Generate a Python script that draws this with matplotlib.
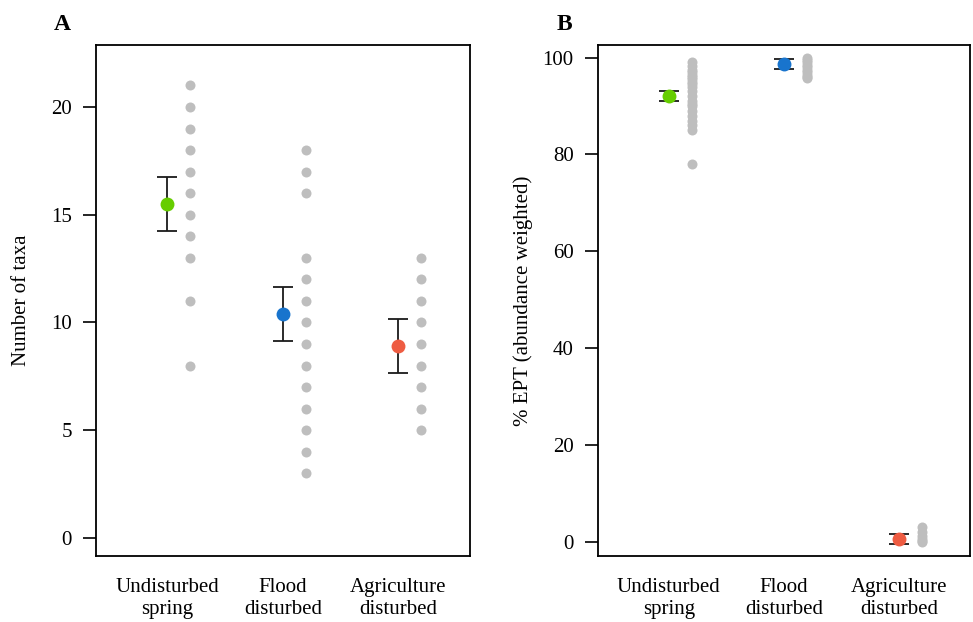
import matplotlib
matplotlib.use('Agg')
import matplotlib.pyplot as plt
import numpy as np

plt.rcParams['font.family'] = ['Liberation Serif', 'DejaVu Serif']

groups = ['Undisturbed\nspring', 'Flood\ndisturbed', 'Agriculture\ndisturbed']
colors = ['#66CD00', '#1874CD', '#EE5C42']

# Panel A: number of taxa per site
taxa_undisturbed = [21, 20, 19, 18, 17, 16, 15, 14, 13, 11, 8]
taxa_flood = [18, 17, 16, 13, 12, 11, 10, 9, 8, 7, 6, 5, 4, 3]
taxa_agri = [13, 12, 11, 10, 9, 8, 7, 6, 5]
taxa_mean = [15.5, 10.4, 8.9]
taxa_lo = [14.25, 9.15, 7.65]
taxa_hi = [16.75, 11.65, 10.15]

# Panel B: % EPT (abundance weighted)
ept_undisturbed = [99, 98.2, 97.5, 97, 96.5, 96, 95.5, 95, 94.5, 94, 93, 92,
                   91, 90.5, 90, 89, 88, 87, 86, 85, 78]
ept_flood = [100, 99.5, 99, 98.5, 98, 97.5, 97, 96.5, 96, 95.8]
ept_agri = [3.0, 2.0, 1.2, 0.6, 0.2, 0.0]
ept_mean = [92.0, 98.6, 0.6]
ept_lo = [91.0, 97.6, -0.5]
ept_hi = [93.0, 99.7, 1.7]

fig = plt.figure(figsize=(9.73, 6.22), dpi=100)
axA = fig.add_axes([0.0987, 0.106, 0.3844, 0.8217])
axB = fig.add_axes([0.6146, 0.106, 0.3824, 0.8217])


def panel(ax, points, mean, lo, hi, ylim, yticks, ylabel, letter):
    x = np.arange(1, 4)
    for i, vals in enumerate(points):
        ax.plot(np.full(len(vals), x[i] + 0.2), vals, 'o', color='#BEBEBE',
                markersize=7.2, markeredgewidth=0, zorder=2)
        yerr = [[mean[i] - lo[i]], [hi[i] - mean[i]]]
        ax.errorbar(x[i], mean[i], yerr=yerr, fmt='none', ecolor='#1a1a1a',
                    elinewidth=1.3, capsize=7, capthick=1.3, zorder=3)
        ax.plot(x[i], mean[i], 'o', color=colors[i], markersize=10,
                markeredgewidth=0, zorder=4)
    ax.set_xlim(0.385, 3.62)
    ax.set_ylim(*ylim)
    ax.set_xticks(x)
    ax.set_xticklabels(groups, fontsize=15, linespacing=1.2)
    ax.tick_params(axis='x', length=0, pad=16)
    ax.set_yticks(yticks)
    ax.tick_params(axis='y', length=9.5, width=1.2, labelsize=15, pad=8)
    ax.set_ylabel(ylabel, fontsize=15)
    ax.yaxis.set_label_coords(-0.174, 0.5)
    for s in ax.spines.values():
        s.set_linewidth(1.3)
    ax.text(-0.09, 1.04, letter, transform=ax.transAxes, fontsize=17,
            fontweight='bold', ha='center', va='center')


panel(axA, [taxa_undisturbed, taxa_flood, taxa_agri], taxa_mean, taxa_lo,
      taxa_hi, (-0.84, 22.88), [0, 5, 10, 15, 20], 'Number of taxa', 'A')
panel(axB, [ept_undisturbed, ept_flood, ept_agri], ept_mean, ept_lo, ept_hi,
      (-2.96, 102.6), [0, 20, 40, 60, 80, 100],
      '% EPT (abundance weighted)', 'B')

fig.savefig('out.png', dpi=100)
